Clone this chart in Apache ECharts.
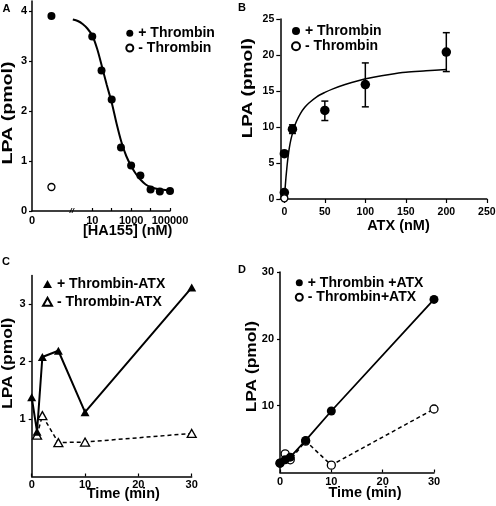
<!DOCTYPE html>
<html><head><meta charset="utf-8">
<script src="https://cdn.jsdelivr.net/npm/echarts@6/dist/echarts.min.js"></script>
<style>html,body{margin:0;padding:0;background:#fff}#c{width:496px;height:506px}</style>
</head><body><div id="c"></div>
<script>
// ---------- Panel A: HA155 dose response ----------
const haConc = [10, 30, 100, 300, 1000, 3000, 10000, 30000, 100000];
const haPlus = [3.49, 2.81, 2.23, 1.27, 0.91, 0.71, 0.43, 0.39, 0.40];
const haCtrlPlus = 3.9;     // no inhibitor ("0"), + thrombin
const haCtrlMinus = 0.48;   // no inhibitor ("0"), - thrombin
const haFitConc = [1, 1.8, 3.2, 5.6, 10, 18, 32, 56, 100, 178, 316, 562, 1000, 1778, 3162, 5623, 10000, 17783, 31623, 56234, 100000];
const haFitLPA  = [3.83, 3.80, 3.74, 3.65, 3.51, 3.24, 2.88, 2.52, 2.17, 1.75, 1.38, 1.10, 0.90, 0.74, 0.62, 0.53, 0.48, 0.45, 0.43, 0.42, 0.41];
const haTickLabels = ['0', '10', '1000', '100000'];

// ---------- Panel B: ATX titration ----------
const atxDose  = [0, 0, 10, 50, 100, 200];
const atxPlus  = [0.9, 6.3, 9.7, 12.3, 15.9, 20.4];
const atxMinusDose = [0];
const atxMinus = [0.1];
const errDose = [10, 50, 100, 200];
const errLow  = [9.1, 10.9, 12.8, 17.7];
const errHigh = [10.3, 13.6, 18.9, 23.1];
const atxFitDose = [0, 1, 2, 3, 4, 5, 6, 8, 10, 12, 15, 20, 25, 30, 40, 50, 60, 75, 90, 110, 130, 150, 175, 200];
const atxFitLPA  = [0.0, 1.6, 3.0, 4.2, 5.3, 6.2, 7.0, 8.2, 9.1, 9.9, 10.8, 11.9, 12.7, 13.3, 14.2, 14.8, 15.3, 15.9, 16.4, 16.9, 17.3, 17.6, 17.8, 18.0];

// ---------- Panel C: time course without ATX ----------
const timeC = [0, 1, 2, 5, 10, 30];
const plusC = [1.38, 0.78, 2.08, 2.19, 1.12, 3.29];
const timeCm = [1, 2, 5, 10, 30];
const minusC = [0.72, 1.06, 0.59, 0.60, 0.75];

// ---------- Panel D: time course with ATX ----------
const timeD = [0, 1, 2, 5, 10, 30];
const plusD = [1.4, 1.9, 2.3, 4.8, 9.2, 25.9];
const minusD = [1.4, 2.8, 1.9, 4.7, 1.1, 9.5];

const FAM = 'Liberation Sans';
const BLACK = '#000';
const CTRL_SLOT = -1.1; // log-axis slot used for the "0" concentration

const zip = (xs, ys) => xs.map((x, i) => [x, ys[i]]);
const lbl = (size, margin, extra) => Object.assign({color: BLACK, fontFamily: FAM, fontWeight: 'bold', fontSize: size, margin: margin}, extra || {});
const line = {onZero: false, lineStyle: {color: BLACK, width: 1.5}};

const chart = echarts.init(document.getElementById('c'), null, {renderer: 'canvas'});

const xAxis = [
  {gridIndex: 0, type: 'value', min: -2.1, max: 5, axisLine: line, splitLine: {show: false},
   axisTick: {inside: true, length: 3, lineStyle: {color: BLACK, width: 1.2}, customValues: [1, 2, 3, 4, 5]},
   axisLabel: lbl(11, 4, {customValues: [-2.1, 1, 3, 5], formatter: v => v < 0 ? haTickLabels[0] : String(Math.round(Math.pow(10, v)))})},
  {gridIndex: 1, type: 'value', min: -5, max: 250, axisLine: line, splitLine: {show: false},
   axisTick: {length: 4, lineStyle: {color: BLACK, width: 1.2}, customValues: [0, 50, 100, 150, 200, 250]},
   axisLabel: lbl(10.5, 8, {customValues: [0, 50, 100, 150, 200, 250]})},
  {gridIndex: 2, type: 'value', min: 0, max: 30, interval: 10, axisLine: line, splitLine: {show: false},
   axisTick: {inside: true, length: 3, lineStyle: {color: BLACK, width: 1.2}},
   axisLabel: lbl(11, 3)},
  {gridIndex: 3, type: 'value', min: 0, max: 30, interval: 10, axisLine: line, splitLine: {show: false},
   axisTick: {inside: true, length: 3, lineStyle: {color: BLACK, width: 1.2}},
   axisLabel: lbl(11, 3.5)}
];
const yAxis = [
  {gridIndex: 0, type: 'value', min: 0, max: 4.2, axisLine: line, splitLine: {show: false},
   axisTick: {length: 3, lineStyle: {color: BLACK, width: 1.2}, customValues: [0, 1, 2, 3, 4]},
   axisLabel: lbl(11, 5, {customValues: [0, 1, 2, 3, 4]})},
  {gridIndex: 1, type: 'value', min: 0, max: 25, interval: 5, axisLine: line, splitLine: {show: false},
   axisTick: {length: 4, lineStyle: {color: BLACK, width: 1.2}},
   axisLabel: lbl(10.5, 6)},
  {gridIndex: 2, type: 'value', min: 0, max: 3.5, axisLine: line, splitLine: {show: false},
   axisTick: {length: 3, lineStyle: {color: BLACK, width: 1.2}, customValues: [1, 2, 3]},
   axisLabel: lbl(11, 6, {customValues: [1, 2, 3]})},
  {gridIndex: 3, type: 'value', min: 0, max: 30, interval: 10, axisLine: line, splitLine: {show: false},
   axisTick: {length: 3, lineStyle: {color: BLACK, width: 1.2}, customValues: [10, 20, 30]},
   axisLabel: lbl(11, 6, {customValues: [10, 20, 30]})}
];

const grid = [
  {left: 32, top: 1, width: 138, height: 210, outerBoundsMode: 'none'},
  {left: 280.3, top: 19, width: 206.5, height: 180, outerBoundsMode: 'none'},
  {left: 31.7, top: 275.5, width: 160, height: 201, outerBoundsMode: 'none'},
  {left: 280, top: 272, width: 154, height: 200.5, outerBoundsMode: 'none'}
];

const openStyle = {color: '#fff', borderColor: BLACK, borderWidth: 1.3, opacity: 1};
const solidStyle = {color: BLACK, opacity: 1};

const series = [
  // A
  {name: 'fitA', type: 'line', xAxisIndex: 0, yAxisIndex: 0, showSymbol: false, smooth: 0.3,
   data: haFitConc.map((c, i) => [Math.log10(c), haFitLPA[i]]), lineStyle: {color: BLACK, width: 2}, z: 2},
  {name: '+ Thrombin', type: 'scatter', xAxisIndex: 0, yAxisIndex: 0, symbol: 'circle', symbolSize: 8, itemStyle: solidStyle,
   data: [[CTRL_SLOT, haCtrlPlus]].concat(haConc.map((c, i) => [Math.log10(c), haPlus[i]])), z: 3},
  {name: '- Thrombin', type: 'scatter', xAxisIndex: 0, yAxisIndex: 0, symbol: 'circle', symbolSize: 7, itemStyle: openStyle,
   data: [[CTRL_SLOT, haCtrlMinus]], z: 3},
  // B
  {name: 'fitB', type: 'line', xAxisIndex: 1, yAxisIndex: 1, showSymbol: false, smooth: 0.3,
   data: zip(atxFitDose, atxFitLPA), lineStyle: {color: BLACK, width: 1.5}, z: 2},
  {name: 'errB', type: 'custom', xAxisIndex: 1, yAxisIndex: 1, z: 2,
   data: errDose.map((d, i) => [d, errLow[i], errHigh[i]]),
   encode: {x: 0, y: [1, 2]},
   renderItem: function (params, api) {
     const lo = api.coord([api.value(0), api.value(1)]);
     const hi = api.coord([api.value(0), api.value(2)]);
     const w = 3.5, st = {stroke: BLACK, lineWidth: 1.5};
     return {type: 'group', children: [
       {type: 'line', shape: {x1: lo[0], y1: lo[1], x2: hi[0], y2: hi[1]}, style: st},
       {type: 'line', shape: {x1: lo[0] - w, y1: lo[1], x2: lo[0] + w, y2: lo[1]}, style: st},
       {type: 'line', shape: {x1: hi[0] - w, y1: hi[1], x2: hi[0] + w, y2: hi[1]}, style: st}
     ]};
   }},
  {name: '+ Thrombin', type: 'scatter', xAxisIndex: 1, yAxisIndex: 1, symbol: 'circle', symbolSize: 9.5, itemStyle: solidStyle,
   data: zip(atxDose, atxPlus), z: 3},
  {name: '- Thrombin', type: 'scatter', xAxisIndex: 1, yAxisIndex: 1, symbol: 'circle', symbolSize: 7, itemStyle: openStyle,
   data: zip(atxMinusDose, atxMinus), z: 4},
  // C
  {name: '- Thrombin-ATX', type: 'line', xAxisIndex: 2, yAxisIndex: 2, symbol: 'triangle', symbolSize: [9, 8], showAllSymbol: true,
   data: zip(timeCm, minusC), itemStyle: openStyle, lineStyle: {color: BLACK, width: 1.5, type: [4, 3]}, z: 2},
  {name: '+ Thrombin-ATX', type: 'line', xAxisIndex: 2, yAxisIndex: 2, symbol: 'triangle', symbolSize: [9, 8], showAllSymbol: true,
   data: zip(timeC, plusC), itemStyle: solidStyle, lineStyle: {color: BLACK, width: 2}, z: 3},
  // D
  {name: '- Thrombin+ATX', type: 'line', xAxisIndex: 3, yAxisIndex: 3, symbol: 'circle', symbolSize: 8, showAllSymbol: true,
   data: zip(timeD, minusD), itemStyle: openStyle, lineStyle: {color: BLACK, width: 1.5, type: [4, 3]}, z: 2},
  {name: '+ Thrombin +ATX', type: 'line', xAxisIndex: 3, yAxisIndex: 3, symbol: 'circle', symbolSize: 9, showAllSymbol: true,
   data: zip(timeD, plusD), itemStyle: solidStyle, lineStyle: {color: BLACK, width: 1.8}, z: 3}
];

const legTxt = {color: BLACK, fontFamily: FAM, fontWeight: 'bold', fontSize: 14, lineHeight: 12};
const legend = [
  {left: 125.3, top: 26.3, orient: 'vertical', padding: 0, itemGap: 0.7, itemWidth: 7, itemHeight: 7, selectedMode: false, textStyle: legTxt,
   data: [{name: '+ Thrombin', icon: 'circle'}, {name: '- Thrombin', icon: 'circle'}]},
  {left: 291, top: 24, orient: 'vertical', padding: 0, itemGap: 1.3, itemWidth: 8, itemHeight: 8, selectedMode: false, textStyle: legTxt,
   data: [{name: '+ Thrombin', icon: 'circle'}, {name: '- Thrombin', icon: 'circle'}]},
  {left: 42, top: 277, orient: 'vertical', padding: 0, itemGap: 3.7, itemWidth: 9, itemHeight: 8, selectedMode: false, textStyle: legTxt,
   data: [{name: '+ Thrombin-ATX', icon: 'triangle'}, {name: '- Thrombin-ATX', icon: 'triangle'}]},
  {left: 294.8, top: 275.7, orient: 'vertical', padding: 0, itemGap: 0.6, itemWidth: 7, itemHeight: 7, selectedMode: false, textStyle: legTxt,
   data: [{name: '+ Thrombin +ATX', icon: 'circle'}, {name: '- Thrombin+ATX', icon: 'circle'}]}
];

function txt(id, text, x, y, size, opts) {
  opts = opts || {};
  return {id: id, type: 'text', x: x, y: y, rotation: opts.rot || 0, scaleX: opts.sx || 1, scaleY: opts.sy || 1, z: 10,
    style: {text: text, fill: BLACK, fontFamily: FAM, fontWeight: 'bold', fontStyle: opts.italic ? 'italic' : 'normal', fontSize: size, align: 'center', verticalAlign: 'middle'}};
}
const R = Math.PI / 2;
const graphics = [
  txt('pA', 'A', 6.5, 9, 11), txt('pB', 'B', 242, 8, 11), txt('pC', 'C', 6, 262, 11), txt('pD', 'D', 242, 270, 11),
  txt('yA', 'LPA (pmol)', 8.5, 113, 14, {rot: R, sx: 1.4}),
  txt('yB', 'LPA (pmol)', 248.3, 88.3, 14, {rot: R, sx: 1.36}),
  txt('yC', 'LPA (pmol)', 8.3, 363.3, 14, {rot: R, sx: 1.24}),
  txt('yD', 'LPA (pmol)', 251.7, 366.7, 14, {rot: R, sx: 1.24}),
  txt('xA', '[HA155] (nM)', 127.7, 231, 14.5),
  txt('xB', 'ATX (nM)', 398.5, 226, 14.5),
  txt('xC', 'Time (min)', 123.3, 494, 14.5),
  txt('xD', 'Time (min)', 365, 493, 14.5)
];

chart.setOption({
  animation: false,
  backgroundColor: '#fff',
  textStyle: {fontFamily: FAM, fontWeight: 'bold', color: BLACK},
  grid: grid, xAxis: xAxis, yAxis: yAxis, series: series, legend: legend,
  graphic: {elements: graphics}
});

// axis break mark on panel A, placed through the axis scale
const bp = chart.convertToPixel({xAxisIndex: 0, yAxisIndex: 0}, [-0.05, 0]);
graphics.push(txt('brk', '//', bp[0], bp[1], 8, {italic: true}));
chart.setOption({graphic: {elements: graphics}});
</script>
</body></html>
